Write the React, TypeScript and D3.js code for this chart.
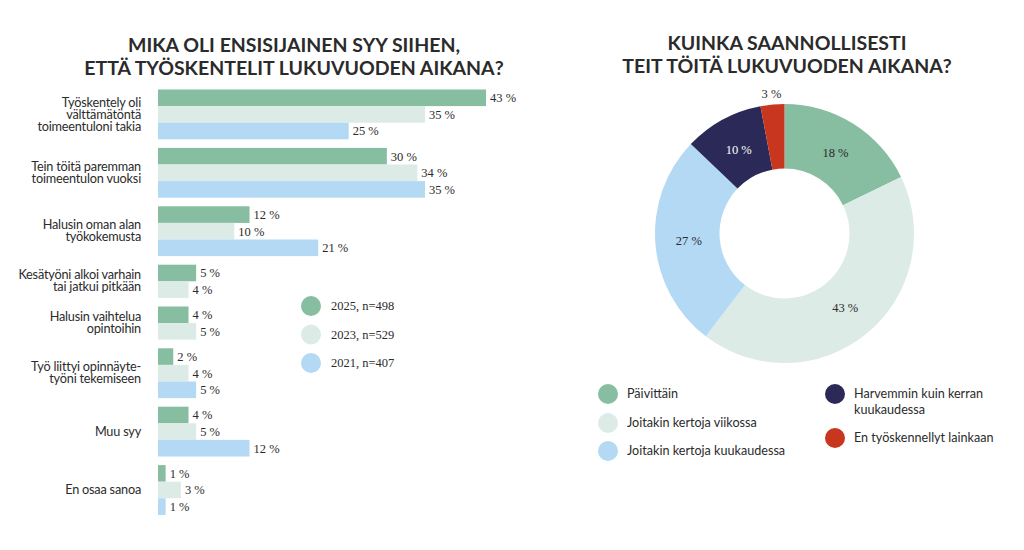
import React from "react";
import * as d3 from "d3";

const categories: string[][] = [
  ["Työskentely oli", "välttämätöntä", "toimeentuloni takia"],
  ["Tein töitä paremman", "toimeentulon vuoksi"],
  ["Halusin oman alan", "työkokemusta"],
  ["Kesätyöni alkoi varhain", "tai jatkui pitkään"],
  ["Halusin vaihtelua", "opintoihin"],
  ["Työ liittyi opinnäyte-", "työni tekemiseen"],
  ["Muu syy"],
  ["En osaa sanoa"],
];
const v2025: (number | null)[] = [43, 30, 12, 5, 4, 2, 4, 1];
const v2023: (number | null)[] = [35, 34, 10, 4, 5, 4, 5, 3];
const v2021: (number | null)[] = [25, 35, 21, null, null, 5, 12, 1];
const seriesNames = ["2025, n=498", "2023, n=529", "2021, n=407"];
const seriesColors = ["#87bda0", "#dcebe6", "#b3d9f5"];

const donutLabels = [
  "Päivittäin",
  "Joitakin kertoja viikossa",
  "Joitakin kertoja kuukaudessa",
  "Harvemmin kuin kerran kuukaudessa",
  "En työskennellyt lainkaan",
];
const donutValues = [18, 43, 27, 10, 3];
const donutColors = ["#87bda0", "#dcebe6", "#b3d9f5", "#2b2957", "#c9361f"];

const titleLeft = ["MIKA OLI ENSISIJAINEN SYY SIIHEN,", "ETTÄ TYÖSKENTELIT LUKUVUODEN AIKANA?"];
const titleRight = ["KUINKA SAANNOLLISESTI", "TEIT TÖITÄ LUKUVUODEN AIKANA?"];

const SANS = "Lato, 'Open Sans', sans-serif";
const SERIF = "'Liberation Serif', 'DejaVu Serif', serif";
const TEXT = "#2b2b2b";

export default function App() {
  const x = d3.scaleLinear().domain([0, 43]).range([158, 486]);
  const barH = 16.6;
  const groupGap = 8.6;
  const top = 89.5;

  const series = [v2025, v2023, v2021];
  let cursor = top;
  const groups = categories.map((cat, i) => {
    const bars: { v: number; s: number; y: number }[] = [];
    const startY = cursor;
    series.forEach((arr, s) => {
      const v = arr[i];
      if (v !== null && v !== undefined) {
        bars.push({ v, s, y: cursor });
        cursor += barH;
      }
    });
    const endY = cursor;
    cursor += groupGap;
    return { cat, bars, center: (startY + endY) / 2 };
  });

  const cx = 784.5;
  const cy = 233.5;
  const rOut = 129.5;
  const rIn = 65;
  const pie = d3.pie<number>().sort(null).value((d) => d);
  const arcs = pie(donutValues);
  const arc = d3.arc<d3.PieArcDatum<number>>().innerRadius(rIn).outerRadius(rOut);
  const labelArc = d3.arc<d3.PieArcDatum<number>>().innerRadius(96).outerRadius(96);
  const outerArc = d3.arc<d3.PieArcDatum<number>>().innerRadius(140).outerRadius(140);

  const legendRight = [
    { i: 0, x: 608, y: 394 },
    { i: 1, x: 608, y: 423 },
    { i: 2, x: 608, y: 451 },
    { i: 3, x: 835, y: 394 },
    { i: 4, x: 835, y: 438 },
  ];
  const legendLines: Record<number, string[]> = {
    3: ["Harvemmin kuin kerran", "kuukaudessa"],
  };

  return (
    <svg
      width={1024}
      height={550}
      style={{ position: "absolute", left: 0, top: 0, background: "#fff" }}
    >
      <rect width={1024} height={550} fill="#fff" />
      {/* Left title */}
      <g fontFamily={SANS} fontWeight={700} fontSize={19.5} fill={TEXT} textAnchor="middle">
        {titleLeft.map((t, i) => (
          <text key={i} x={294} y={52 + i * 23}>
            {t}
          </text>
        ))}
      </g>
      {/* Bars */}
      {groups.map((g, gi) => (
        <g key={gi}>
          {g.bars.map((b, bi) => (
            <g key={bi}>
              <rect
                x={x(0)}
                y={b.y}
                width={x(b.v) - x(0)}
                height={barH}
                fill={seriesColors[b.s]}
              />
              <text
                x={x(b.v) + 4}
                y={b.y + barH / 2}
                dy="0.35em"
                fontFamily={SERIF}
                fontSize={12.5}
                fill={TEXT}
              >
                {`${b.v} %`}
              </text>
            </g>
          ))}
          <text
            fontFamily={SANS}
            fontSize={12.7}
            fill={TEXT}
            textAnchor="end"
            letterSpacing={-0.2}
          >
            {g.cat.map((line, li) => (
              <tspan
                key={li}
                x={141}
                y={g.center + (li - (g.cat.length - 1) / 2) * 12}
                dy="0.33em"
              >
                {line}
              </tspan>
            ))}
          </text>
        </g>
      ))}
      {/* Left legend */}
      {seriesNames.map((n, i) => (
        <g key={i}>
          <circle cx={311} cy={306 + i * 28.5} r={10} fill={seriesColors[i]} />
          <text
            x={331}
            y={306 + i * 28.5}
            dy="0.35em"
            fontFamily={SERIF}
            fontSize={12.5}
            fill={TEXT}
          >
            {n}
          </text>
        </g>
      ))}

      {/* Right title */}
      <g fontFamily={SANS} fontWeight={700} fontSize={19.5} fill={TEXT} textAnchor="middle">
        {titleRight.map((t, i) => (
          <text key={i} x={787} y={50 + i * 23}>
            {t}
          </text>
        ))}
      </g>
      {/* Donut */}
      <g transform={`translate(${cx},${cy})`}>
        {arcs.map((a, i) => (
          <path key={i} d={arc(a) || ""} fill={donutColors[i]} />
        ))}
        {arcs.map((a, i) => {
          const small = donutValues[i] < 5;
          const [lx, ly] = small ? outerArc.centroid(a) : labelArc.centroid(a);
          return (
            <text
              key={`l${i}`}
              x={lx}
              y={ly}
              dy="0.35em"
              textAnchor="middle"
              fontFamily={SERIF}
              fontSize={12.5}
              fill={i === 3 ? "#fff" : TEXT}
            >
              {`${donutValues[i]} %`}
            </text>
          );
        })}
      </g>
      {/* Right legend */}
      {legendRight.map((l) => {
        const lines = legendLines[l.i] || [donutLabels[l.i]];
        return (
          <g key={l.i}>
            <circle cx={l.x} cy={l.y} r={10} fill={donutColors[l.i]} />
            <text fontFamily={SANS} fontSize={12.6} fill={TEXT}>
              {lines.map((ln, li) => (
                <tspan key={li} x={l.x + 19} y={l.y + li * 16} dy="0.35em">
                  {ln}
                </tspan>
              ))}
            </text>
          </g>
        );
      })}
    </svg>
  );
}
